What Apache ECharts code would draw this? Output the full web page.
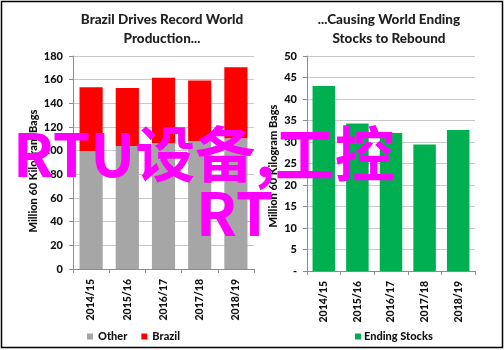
<!DOCTYPE html>
<html>
<head>
<meta charset="utf-8">
<script src="https://cdn.jsdelivr.net/npm/echarts@6/dist/echarts.min.js"></script>
<style>
  html, body { margin: 0; padding: 0; background: #fff; }
  #chart { width: 504px; height: 350px; }
</style>
</head>
<body>
<div id="chart"></div>
<script>
// Marketing years shared by both panels
var categories = ['2014/15', '2015/16', '2016/17', '2017/18', '2018/19'];
// World coffee production split (million 60 kg bags)
var otherProduction = [99.7, 103.9, 106.2, 108.2, 110.5];
var brazilProduction = [53.8, 49.1, 55.5, 51.2, 59.9];
// World ending stocks (million 60 kg bags)
var endingStocks = [43.0, 34.3, 32.1, 29.4, 32.8];
// Panel titles
var leftTitle = 'Brazil Drives Record World\nProduction...';
var rightTitle = '...Causing World Ending\nStocks to Rebound';
var yAxisTitle = 'Million 60 Kilogram Bags';

var FONT = 'Lato, "Noto Sans", sans-serif';
var chart = echarts.init(document.getElementById('chart'), null, { renderer: 'canvas' });

function valueAxis(gridIndex, max, interval, zeroDash) {
  return {
    type: 'value', gridIndex: gridIndex, min: 0, max: max, interval: interval,
    axisLine: { show: true, lineStyle: { color: '#8c8c8c', width: 1 } },
    axisTick: { show: true, length: 4, lineStyle: { color: '#8c8c8c' } },
    axisLabel: {
      fontFamily: FONT, fontWeight: 900, fontSize: 11, color: '#111', margin: 10,
      formatter: function (v) { return (zeroDash && v === 0) ? '-' : String(v); }
    },
    splitLine: { show: true, lineStyle: { color: '#c8c8c8', width: 1 } }
  };
}

function categoryAxis(gridIndex) {
  return {
    type: 'category', gridIndex: gridIndex, data: categories,
    axisLine: { show: true, lineStyle: { color: '#8c8c8c', width: 1 } },
    axisTick: { show: true, length: 4, lineStyle: { color: '#8c8c8c' } },
    axisLabel: {
      rotate: 90, fontFamily: FONT, fontWeight: 900, fontSize: 10.5, color: '#111', margin: 10
    }
  };
}

// Rotated y-axis caption placed beside each value axis
function axisCaption(cx, cy) {
  return {
    type: 'text', silent: true, x: cx, y: cy, rotation: Math.PI / 2,
    style: {
      text: yAxisTitle, fill: '#111', align: 'center', verticalAlign: 'middle',
      font: '900 11px ' + FONT
    }
  };
}

var option = {
  backgroundColor: '#ffffff',
  animation: false,
  title: [
    {
      text: leftTitle, left: 157, top: 5, textAlign: 'center',
      textStyle: { fontFamily: FONT, fontWeight: 900, fontSize: 13.5, color: '#222', lineHeight: 19 }
    },
    {
      text: rightTitle, left: 384, top: 5, textAlign: 'center',
      textStyle: { fontFamily: FONT, fontWeight: 900, fontSize: 13.5, color: '#222', lineHeight: 19 }
    }
  ],
  legend: [
    {
      data: ['Other', 'Brazil'], left: 82, top: 326, itemWidth: 6, itemHeight: 6, itemGap: 14,
      icon: 'rect', textStyle: { fontFamily: FONT, fontWeight: 900, fontSize: 11, color: '#111' }
    },
    {
      data: ['Ending Stocks'], left: 350, top: 326, itemWidth: 6, itemHeight: 6, itemGap: 3,
      icon: 'rect', textStyle: { fontFamily: FONT, fontWeight: 900, fontSize: 11, color: '#111', padding: [0, 0, 0, -2] }
    }
  ],
  grid: [
    { left: 73, right: 250, top: 56, bottom: 81 },
    { left: 307, right: 29, top: 56, bottom: 79 }
  ],
  xAxis: [categoryAxis(0), categoryAxis(1)],
  yAxis: [valueAxis(0, 180, 20, false), valueAxis(1, 50, 5, true)],
  series: [
    {
      name: 'Other', type: 'bar', stack: 'prod', xAxisIndex: 0, yAxisIndex: 0,
      data: otherProduction, barWidth: '64%', itemStyle: { color: '#a6a6a6' }
    },
    {
      name: 'Brazil', type: 'bar', stack: 'prod', xAxisIndex: 0, yAxisIndex: 0,
      data: brazilProduction, barWidth: '64%', itemStyle: { color: '#ff0000' }
    },
    {
      name: 'Ending Stocks', type: 'bar', xAxisIndex: 1, yAxisIndex: 1,
      data: endingStocks, barWidth: '67%', itemStyle: { color: '#00b050' }
    }
  ],
  graphic: [
    axisCaption(33, 171),
    axisCaption(273, 166),
    {
      type: 'rect', silent: true, z: 100,
      shape: { x: 1.5, y: 1.5, width: 501, height: 346 },
      style: { fill: 'none', stroke: '#000000', lineWidth: 1.5 }
    },
    {
      type: 'text', silent: true, z: 101, x: 13, y: 154,
      style: {
        text: 'RTU设备,工控', fill: '#ff00ff',
        font: 'bold 60px "Noto Sans CJK SC", sans-serif', verticalAlign: 'middle', align: 'left'
      }
    },
    {
      type: 'text', silent: true, z: 101, x: 196, y: 213,
      style: {
        text: 'RT', fill: '#ff00ff',
        font: 'bold 60px "Noto Sans CJK SC", sans-serif', verticalAlign: 'middle', align: 'left'
      }
    }
  ]
};

chart.setOption(option);
</script>
</body>
</html>
